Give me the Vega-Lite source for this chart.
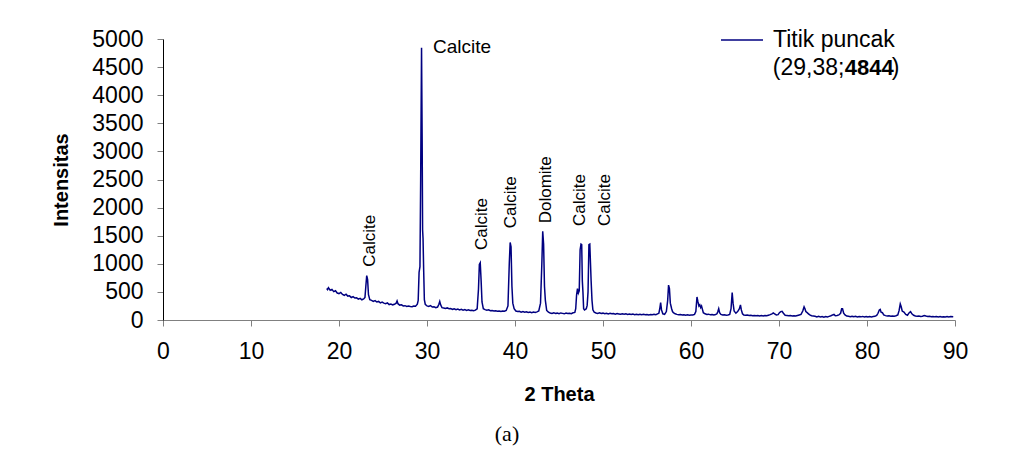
{
  "$schema": "https://vega.github.io/schema/vega-lite/v6.json",
  "width": 792,
  "height": 281,
  "autosize": {"type": "none"},
  "padding": {"left": 163, "top": 39, "right": 62, "bottom": 148},
  "background": "white",
  "config": {
    "view": {"stroke": null},
    "font": "Liberation Sans",
    "axis": {"grid": false, "labelColor": "black", "titleColor": "black", "labelFont": "Liberation Sans", "titleFont": "Liberation Sans"}
  },
  "title": {
    "text": "(a)",
    "orient": "bottom",
    "anchor": "middle",
    "frame": "group",
    "font": "Liberation Serif",
    "fontSize": 22,
    "fontWeight": "normal",
    "color": "black",
    "dx": -52,
    "offset": 20
  },
  "datasets": {
    "pattern": [
      {"theta": 18.6, "intensity": 560}, {"theta": 18.7, "intensity": 540}, {"theta": 18.8, "intensity": 575}, {"theta": 19.0, "intensity": 530},
      {"theta": 19.2, "intensity": 545}, {"theta": 19.4, "intensity": 505}, {"theta": 19.6, "intensity": 520}, {"theta": 19.8, "intensity": 480},
      {"theta": 20.0, "intensity": 470}, {"theta": 20.2, "intensity": 490}, {"theta": 20.4, "intensity": 455}, {"theta": 20.6, "intensity": 440},
      {"theta": 20.8, "intensity": 460}, {"theta": 21.0, "intensity": 425}, {"theta": 21.2, "intensity": 430}, {"theta": 21.4, "intensity": 400},
      {"theta": 21.6, "intensity": 415}, {"theta": 21.8, "intensity": 390}, {"theta": 22.0, "intensity": 395}, {"theta": 22.2, "intensity": 370},
      {"theta": 22.4, "intensity": 385}, {"theta": 22.6, "intensity": 360}, {"theta": 22.8, "intensity": 375}, {"theta": 22.95, "intensity": 400},
      {"theta": 23.05, "intensity": 600}, {"theta": 23.15, "intensity": 790}, {"theta": 23.25, "intensity": 720}, {"theta": 23.35, "intensity": 450},
      {"theta": 23.5, "intensity": 360}, {"theta": 23.7, "intensity": 350}, {"theta": 23.9, "intensity": 330}, {"theta": 24.1, "intensity": 345},
      {"theta": 24.3, "intensity": 320}, {"theta": 24.5, "intensity": 330}, {"theta": 24.7, "intensity": 305}, {"theta": 24.9, "intensity": 320},
      {"theta": 25.1, "intensity": 300}, {"theta": 25.3, "intensity": 290}, {"theta": 25.5, "intensity": 305}, {"theta": 25.7, "intensity": 275},
      {"theta": 25.9, "intensity": 285}, {"theta": 26.1, "intensity": 270}, {"theta": 26.3, "intensity": 280}, {"theta": 26.5, "intensity": 300},
      {"theta": 26.6, "intensity": 340}, {"theta": 26.7, "intensity": 290}, {"theta": 26.9, "intensity": 265}, {"theta": 27.1, "intensity": 270},
      {"theta": 27.3, "intensity": 250}, {"theta": 27.5, "intensity": 255}, {"theta": 27.7, "intensity": 240}, {"theta": 27.9, "intensity": 250},
      {"theta": 28.1, "intensity": 240}, {"theta": 28.3, "intensity": 235}, {"theta": 28.5, "intensity": 250}, {"theta": 28.7, "intensity": 245},
      {"theta": 28.9, "intensity": 280}, {"theta": 29.0, "intensity": 350}, {"theta": 29.1, "intensity": 850}, {"theta": 29.2, "intensity": 950},
      {"theta": 29.28, "intensity": 2500}, {"theta": 29.38, "intensity": 4844}, {"theta": 29.45, "intensity": 3200}, {"theta": 29.5, "intensity": 1600},
      {"theta": 29.55, "intensity": 1450}, {"theta": 29.62, "intensity": 900}, {"theta": 29.7, "intensity": 360}, {"theta": 29.8, "intensity": 280},
      {"theta": 30.0, "intensity": 250}, {"theta": 30.2, "intensity": 240}, {"theta": 30.4, "intensity": 255}, {"theta": 30.6, "intensity": 230},
      {"theta": 30.8, "intensity": 235}, {"theta": 31.0, "intensity": 220}, {"theta": 31.2, "intensity": 230}, {"theta": 31.35, "intensity": 280},
      {"theta": 31.45, "intensity": 330}, {"theta": 31.55, "intensity": 270}, {"theta": 31.7, "intensity": 220}, {"theta": 31.9, "intensity": 215},
      {"theta": 32.1, "intensity": 205}, {"theta": 32.3, "intensity": 215}, {"theta": 32.5, "intensity": 200}, {"theta": 32.7, "intensity": 205},
      {"theta": 32.9, "intensity": 190}, {"theta": 33.1, "intensity": 200}, {"theta": 33.3, "intensity": 185}, {"theta": 33.5, "intensity": 195},
      {"theta": 33.7, "intensity": 180}, {"theta": 33.9, "intensity": 190}, {"theta": 34.1, "intensity": 175}, {"theta": 34.3, "intensity": 185},
      {"theta": 34.5, "intensity": 170}, {"theta": 34.7, "intensity": 180}, {"theta": 34.9, "intensity": 170}, {"theta": 35.1, "intensity": 175},
      {"theta": 35.3, "intensity": 165}, {"theta": 35.5, "intensity": 175}, {"theta": 35.7, "intensity": 200}, {"theta": 35.85, "intensity": 550},
      {"theta": 35.95, "intensity": 990}, {"theta": 36.05, "intensity": 1020}, {"theta": 36.15, "intensity": 700}, {"theta": 36.25, "intensity": 320},
      {"theta": 36.4, "intensity": 200}, {"theta": 36.6, "intensity": 185}, {"theta": 36.8, "intensity": 175}, {"theta": 37.0, "intensity": 180},
      {"theta": 37.2, "intensity": 165}, {"theta": 37.4, "intensity": 170}, {"theta": 37.6, "intensity": 160}, {"theta": 37.8, "intensity": 165},
      {"theta": 38.0, "intensity": 155}, {"theta": 38.2, "intensity": 160}, {"theta": 38.4, "intensity": 150}, {"theta": 38.6, "intensity": 160},
      {"theta": 38.8, "intensity": 155}, {"theta": 39.0, "intensity": 170}, {"theta": 39.2, "intensity": 250}, {"theta": 39.35, "intensity": 1000},
      {"theta": 39.45, "intensity": 1380}, {"theta": 39.55, "intensity": 1300}, {"theta": 39.65, "intensity": 600}, {"theta": 39.75, "intensity": 300},
      {"theta": 39.9, "intensity": 200}, {"theta": 40.1, "intensity": 160}, {"theta": 40.3, "intensity": 150}, {"theta": 40.5, "intensity": 155},
      {"theta": 40.7, "intensity": 140}, {"theta": 40.9, "intensity": 150}, {"theta": 41.1, "intensity": 140}, {"theta": 41.3, "intensity": 145},
      {"theta": 41.5, "intensity": 135}, {"theta": 41.7, "intensity": 140}, {"theta": 41.9, "intensity": 130}, {"theta": 42.1, "intensity": 140},
      {"theta": 42.3, "intensity": 135}, {"theta": 42.5, "intensity": 145}, {"theta": 42.7, "intensity": 160}, {"theta": 42.9, "intensity": 300},
      {"theta": 43.05, "intensity": 1000}, {"theta": 43.15, "intensity": 1580}, {"theta": 43.25, "intensity": 1350}, {"theta": 43.35, "intensity": 600},
      {"theta": 43.45, "intensity": 350}, {"theta": 43.6, "intensity": 170}, {"theta": 43.8, "intensity": 140}, {"theta": 44.0, "intensity": 125},
      {"theta": 44.2, "intensity": 118}, {"theta": 44.4, "intensity": 130}, {"theta": 44.6, "intensity": 115}, {"theta": 44.8, "intensity": 122},
      {"theta": 45.0, "intensity": 112}, {"theta": 45.2, "intensity": 126}, {"theta": 45.4, "intensity": 118}, {"theta": 45.6, "intensity": 110},
      {"theta": 45.8, "intensity": 124}, {"theta": 46.0, "intensity": 116}, {"theta": 46.2, "intensity": 120}, {"theta": 46.4, "intensity": 112},
      {"theta": 46.6, "intensity": 128}, {"theta": 46.8, "intensity": 135}, {"theta": 46.9, "intensity": 200}, {"theta": 47.0, "intensity": 450},
      {"theta": 47.1, "intensity": 560}, {"theta": 47.2, "intensity": 480}, {"theta": 47.3, "intensity": 520}, {"theta": 47.4, "intensity": 1250},
      {"theta": 47.5, "intensity": 1350}, {"theta": 47.58, "intensity": 1340}, {"theta": 47.65, "intensity": 700}, {"theta": 47.72, "intensity": 500},
      {"theta": 47.8, "intensity": 200}, {"theta": 47.9, "intensity": 180}, {"theta": 48.1, "intensity": 200}, {"theta": 48.2, "intensity": 260},
      {"theta": 48.3, "intensity": 500}, {"theta": 48.4, "intensity": 1340}, {"theta": 48.5, "intensity": 1350}, {"theta": 48.58, "intensity": 1000},
      {"theta": 48.65, "intensity": 700}, {"theta": 48.75, "intensity": 350}, {"theta": 48.85, "intensity": 180}, {"theta": 49.0, "intensity": 140},
      {"theta": 49.2, "intensity": 125}, {"theta": 49.4, "intensity": 118}, {"theta": 49.6, "intensity": 128}, {"theta": 49.8, "intensity": 115},
      {"theta": 50.0, "intensity": 122}, {"theta": 50.2, "intensity": 112}, {"theta": 50.4, "intensity": 120}, {"theta": 50.6, "intensity": 108},
      {"theta": 50.8, "intensity": 118}, {"theta": 51.0, "intensity": 110}, {"theta": 51.2, "intensity": 116}, {"theta": 51.4, "intensity": 105},
      {"theta": 51.6, "intensity": 114}, {"theta": 51.8, "intensity": 108}, {"theta": 52.0, "intensity": 102}, {"theta": 52.2, "intensity": 112},
      {"theta": 52.4, "intensity": 104}, {"theta": 52.6, "intensity": 110}, {"theta": 52.8, "intensity": 100}, {"theta": 53.0, "intensity": 108},
      {"theta": 53.2, "intensity": 98}, {"theta": 53.4, "intensity": 105}, {"theta": 53.6, "intensity": 96}, {"theta": 53.8, "intensity": 104},
      {"theta": 54.0, "intensity": 95}, {"theta": 54.2, "intensity": 102}, {"theta": 54.4, "intensity": 94}, {"theta": 54.6, "intensity": 100},
      {"theta": 54.8, "intensity": 92}, {"theta": 55.0, "intensity": 98}, {"theta": 55.2, "intensity": 90}, {"theta": 55.4, "intensity": 97},
      {"theta": 55.6, "intensity": 92}, {"theta": 55.8, "intensity": 100}, {"theta": 56.0, "intensity": 95}, {"theta": 56.2, "intensity": 110},
      {"theta": 56.35, "intensity": 120}, {"theta": 56.45, "intensity": 200}, {"theta": 56.55, "intensity": 310}, {"theta": 56.65, "intensity": 180},
      {"theta": 56.8, "intensity": 110}, {"theta": 57.0, "intensity": 100}, {"theta": 57.2, "intensity": 150}, {"theta": 57.35, "intensity": 350},
      {"theta": 57.45, "intensity": 620}, {"theta": 57.55, "intensity": 560}, {"theta": 57.65, "intensity": 300}, {"theta": 57.8, "intensity": 200},
      {"theta": 57.9, "intensity": 150}, {"theta": 58.0, "intensity": 130}, {"theta": 58.2, "intensity": 110}, {"theta": 58.4, "intensity": 100},
      {"theta": 58.6, "intensity": 92}, {"theta": 58.8, "intensity": 98}, {"theta": 59.0, "intensity": 88}, {"theta": 59.2, "intensity": 95},
      {"theta": 59.4, "intensity": 86}, {"theta": 59.6, "intensity": 92}, {"theta": 59.8, "intensity": 85}, {"theta": 60.0, "intensity": 90},
      {"theta": 60.2, "intensity": 88}, {"theta": 60.4, "intensity": 100}, {"theta": 60.55, "intensity": 150}, {"theta": 60.68, "intensity": 410},
      {"theta": 60.78, "intensity": 330}, {"theta": 60.9, "intensity": 250}, {"theta": 61.0, "intensity": 270}, {"theta": 61.1, "intensity": 220},
      {"theta": 61.2, "intensity": 250}, {"theta": 61.3, "intensity": 190}, {"theta": 61.4, "intensity": 130}, {"theta": 61.6, "intensity": 110},
      {"theta": 61.8, "intensity": 98}, {"theta": 62.0, "intensity": 104}, {"theta": 62.2, "intensity": 92}, {"theta": 62.4, "intensity": 98},
      {"theta": 62.6, "intensity": 90}, {"theta": 62.8, "intensity": 96}, {"theta": 62.95, "intensity": 110}, {"theta": 63.05, "intensity": 150},
      {"theta": 63.15, "intensity": 200}, {"theta": 63.25, "intensity": 130}, {"theta": 63.4, "intensity": 100}, {"theta": 63.6, "intensity": 90},
      {"theta": 63.8, "intensity": 95}, {"theta": 64.0, "intensity": 85}, {"theta": 64.2, "intensity": 90}, {"theta": 64.4, "intensity": 100},
      {"theta": 64.55, "intensity": 200}, {"theta": 64.68, "intensity": 490}, {"theta": 64.78, "intensity": 300}, {"theta": 64.9, "intensity": 160},
      {"theta": 65.0, "intensity": 140}, {"theta": 65.1, "intensity": 120}, {"theta": 65.3, "intensity": 150}, {"theta": 65.5, "intensity": 200},
      {"theta": 65.62, "intensity": 270}, {"theta": 65.72, "intensity": 180}, {"theta": 65.85, "intensity": 110}, {"theta": 66.0, "intensity": 90},
      {"theta": 66.2, "intensity": 85}, {"theta": 66.4, "intensity": 90}, {"theta": 66.6, "intensity": 80}, {"theta": 66.8, "intensity": 85},
      {"theta": 67.0, "intensity": 75}, {"theta": 67.2, "intensity": 80}, {"theta": 67.4, "intensity": 75}, {"theta": 67.6, "intensity": 80},
      {"theta": 67.8, "intensity": 70}, {"theta": 68.0, "intensity": 78}, {"theta": 68.2, "intensity": 72}, {"theta": 68.4, "intensity": 80},
      {"theta": 68.6, "intensity": 75}, {"theta": 68.8, "intensity": 85}, {"theta": 69.0, "intensity": 95}, {"theta": 69.2, "intensity": 110},
      {"theta": 69.35, "intensity": 125}, {"theta": 69.5, "intensity": 110}, {"theta": 69.7, "intensity": 90}, {"theta": 69.9, "intensity": 95},
      {"theta": 70.05, "intensity": 130}, {"theta": 70.2, "intensity": 150}, {"theta": 70.35, "intensity": 155}, {"theta": 70.5, "intensity": 120},
      {"theta": 70.7, "intensity": 85}, {"theta": 70.9, "intensity": 80}, {"theta": 71.1, "intensity": 75}, {"theta": 71.3, "intensity": 80},
      {"theta": 71.5, "intensity": 70}, {"theta": 71.7, "intensity": 75}, {"theta": 71.9, "intensity": 70}, {"theta": 72.1, "intensity": 80},
      {"theta": 72.3, "intensity": 90}, {"theta": 72.5, "intensity": 100}, {"theta": 72.7, "intensity": 160}, {"theta": 72.85, "intensity": 235},
      {"theta": 72.95, "intensity": 200}, {"theta": 73.05, "intensity": 150}, {"theta": 73.2, "intensity": 130}, {"theta": 73.35, "intensity": 110},
      {"theta": 73.5, "intensity": 90}, {"theta": 73.7, "intensity": 75}, {"theta": 73.9, "intensity": 70}, {"theta": 74.1, "intensity": 65},
      {"theta": 74.3, "intensity": 55}, {"theta": 74.5, "intensity": 65}, {"theta": 74.7, "intensity": 55}, {"theta": 74.9, "intensity": 60},
      {"theta": 75.1, "intensity": 50}, {"theta": 75.3, "intensity": 60}, {"theta": 75.5, "intensity": 55}, {"theta": 75.7, "intensity": 65},
      {"theta": 75.9, "intensity": 75}, {"theta": 76.1, "intensity": 90}, {"theta": 76.25, "intensity": 100}, {"theta": 76.4, "intensity": 75},
      {"theta": 76.6, "intensity": 80}, {"theta": 76.8, "intensity": 90}, {"theta": 77.0, "intensity": 120}, {"theta": 77.12, "intensity": 200},
      {"theta": 77.22, "intensity": 200}, {"theta": 77.35, "intensity": 120}, {"theta": 77.5, "intensity": 90}, {"theta": 77.7, "intensity": 70},
      {"theta": 77.9, "intensity": 65}, {"theta": 78.1, "intensity": 60}, {"theta": 78.3, "intensity": 68}, {"theta": 78.5, "intensity": 58},
      {"theta": 78.7, "intensity": 65}, {"theta": 78.9, "intensity": 55}, {"theta": 79.1, "intensity": 62}, {"theta": 79.3, "intensity": 56},
      {"theta": 79.5, "intensity": 64}, {"theta": 79.7, "intensity": 55}, {"theta": 79.9, "intensity": 60}, {"theta": 80.1, "intensity": 52},
      {"theta": 80.3, "intensity": 60}, {"theta": 80.5, "intensity": 55}, {"theta": 80.7, "intensity": 62}, {"theta": 80.9, "intensity": 65},
      {"theta": 81.1, "intensity": 80}, {"theta": 81.25, "intensity": 120}, {"theta": 81.4, "intensity": 180}, {"theta": 81.5, "intensity": 190},
      {"theta": 81.6, "intensity": 140}, {"theta": 81.75, "intensity": 130}, {"theta": 81.9, "intensity": 90}, {"theta": 82.1, "intensity": 78},
      {"theta": 82.3, "intensity": 70}, {"theta": 82.5, "intensity": 74}, {"theta": 82.7, "intensity": 66}, {"theta": 82.9, "intensity": 72},
      {"theta": 83.1, "intensity": 68}, {"theta": 83.3, "intensity": 75}, {"theta": 83.5, "intensity": 90}, {"theta": 83.65, "intensity": 170},
      {"theta": 83.78, "intensity": 285}, {"theta": 83.88, "intensity": 240}, {"theta": 84.0, "intensity": 160}, {"theta": 84.2, "intensity": 140},
      {"theta": 84.4, "intensity": 100}, {"theta": 84.6, "intensity": 85}, {"theta": 84.8, "intensity": 130}, {"theta": 84.95, "intensity": 150},
      {"theta": 85.1, "intensity": 110}, {"theta": 85.3, "intensity": 85}, {"theta": 85.5, "intensity": 72}, {"theta": 85.7, "intensity": 66},
      {"theta": 85.9, "intensity": 70}, {"theta": 86.1, "intensity": 62}, {"theta": 86.3, "intensity": 68}, {"theta": 86.5, "intensity": 80},
      {"theta": 86.7, "intensity": 70}, {"theta": 86.9, "intensity": 62}, {"theta": 87.1, "intensity": 66}, {"theta": 87.3, "intensity": 58},
      {"theta": 87.5, "intensity": 64}, {"theta": 87.7, "intensity": 56}, {"theta": 87.9, "intensity": 62}, {"theta": 88.1, "intensity": 55},
      {"theta": 88.3, "intensity": 60}, {"theta": 88.5, "intensity": 54}, {"theta": 88.7, "intensity": 58}, {"theta": 88.9, "intensity": 52},
      {"theta": 89.1, "intensity": 60}, {"theta": 89.3, "intensity": 55}, {"theta": 89.5, "intensity": 62}, {"theta": 89.8, "intensity": 58}
    ],
    "phases": [
      {"theta": 24.06, "intensity": 948, "label": "Calcite"},
      {"theta": 36.8, "intensity": 1245, "label": "Calcite"},
      {"theta": 40.16, "intensity": 1631, "label": "Calcite"},
      {"theta": 44.14, "intensity": 1720, "label": "Dolomite"},
      {"theta": 47.93, "intensity": 1673, "label": "Calcite"},
      {"theta": 50.76, "intensity": 1673, "label": "Calcite"}
    ],
    "strongest": [
      {"theta": 30.68, "intensity": 4756, "label": "Calcite"}
    ],
    "peakNote": [
      {"theta": 69.3, "intensity": 4360, "open": "(29,38;", "value": "4844", "close": ")"}
    ]
  },
  "encoding": {
    "x": {
      "field": "theta",
      "type": "quantitative",
      "scale": {"domain": [0, 90], "nice": false, "zero": false},
      "axis": {
        "title": "2 Theta",
        "values": [0, 10, 20, 30, 40, 50, 60, 70, 80, 90],
        "format": "d",
        "domainColor": "#808080",
        "tickColor": "#808080",
        "tickSize": 6,
        "labelFontSize": 23,
        "labelPadding": 14,
        "labelFlush": false,
        "labelOverlap": false,
        "titleFontSize": 20,
        "titleFontWeight": "bold",
        "titleBaseline": "alphabetic",
        "titleX": 396,
        "titleY": 80
      }
    },
    "y": {
      "field": "intensity",
      "type": "quantitative",
      "scale": {"domain": [0, 5000], "nice": false},
      "axis": {
        "title": "Intensitas",
        "values": [0, 500, 1000, 1500, 2000, 2500, 3000, 3500, 4000, 4500, 5000],
        "format": "d",
        "domainColor": "black",
        "tickColor": "#808080",
        "tickSize": 6,
        "labelFontSize": 23,
        "labelPadding": 14,
        "labelFlush": false,
        "labelOverlap": false,
        "titleFontSize": 20,
        "titleFontWeight": "bold",
        "titleBaseline": "alphabetic",
        "titleX": -96,
        "titleY": 140.5
      }
    }
  },
  "layer": [
    {
      "data": {"name": "pattern"},
      "mark": {"type": "line", "strokeWidth": 1.5, "interpolate": "linear"},
      "encoding": {
        "color": {
          "datum": "Titik puncak",
          "scale": {"range": ["#000080"]},
          "legend": {
            "orient": "none",
            "legendX": 557,
            "legendY": -21,
            "title": null,
            "padding": 0,
            "symbolType": "stroke",
            "symbolSize": 1764,
            "symbolStrokeWidth": 1.5,
            "labelFont": "Liberation Sans",
            "labelFontSize": 23,
            "labelColor": "black",
            "labelOffset": 9
          }
        }
      }
    },
    {
      "data": {"name": "phases"},
      "mark": {"type": "text", "angle": 270, "align": "left", "baseline": "alphabetic", "fontSize": 17, "font": "Liberation Sans", "color": "black"},
      "encoding": {"text": {"field": "label"}}
    },
    {
      "data": {"name": "strongest"},
      "mark": {"type": "text", "align": "left", "baseline": "alphabetic", "fontSize": 19, "font": "Liberation Sans", "color": "black"},
      "encoding": {"text": {"field": "label"}}
    },
    {
      "data": {"name": "peakNote"},
      "mark": {"type": "text", "align": "left", "baseline": "alphabetic", "fontSize": 23, "font": "Liberation Sans", "color": "black"},
      "encoding": {"text": {"field": "open"}}
    },
    {
      "data": {"name": "peakNote"},
      "mark": {"type": "text", "align": "left", "baseline": "alphabetic", "fontSize": 22, "fontWeight": "bold", "font": "Liberation Sans", "color": "black", "dx": 72},
      "encoding": {"text": {"field": "value"}}
    },
    {
      "data": {"name": "peakNote"},
      "mark": {"type": "text", "align": "left", "baseline": "alphabetic", "fontSize": 23, "font": "Liberation Sans", "color": "black", "dx": 119},
      "encoding": {"text": {"field": "close"}}
    }
  ]
}
